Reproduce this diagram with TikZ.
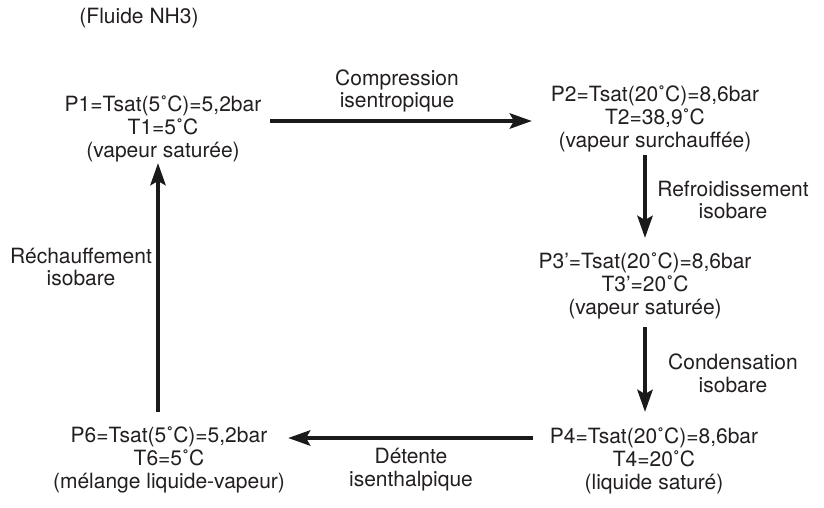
\documentclass[tikz,border=0pt]{standalone}
\usepackage{fontspec}
\setmainfont{TeX Gyre Heros}
\usetikzlibrary{arrows.meta}
\definecolor{txt}{HTML}{231F20}
\definecolor{arr}{HTML}{1A1A1A}
\tikzset{
  lbl/.style={align=center, inner sep=0pt, text=txt, font=\fontsize{21pt}{22.8pt}\selectfont},
  flow/.style={draw=arr, line width=4.5pt, -{Stealth[length=22pt,width=15pt,inset=4pt]}}
}
\newcommand{\dg}{˚}
\newcommand{\apos}{\symbol{"27}}
\begin{document}
\begin{tikzpicture}[x=1pt,y=-1pt]
\useasboundingbox[fill=white] (0,0) rectangle (824,507);
\node[lbl] (fl) at (139,18) {(Fluide NH3)};
\node[lbl] (n1) at (163,129) {P1=Tsat(5\dg C)=5,2bar\\T1=5\dg C\\(vapeur saturée)};
\node[lbl] (n2) at (655,119) {P2=Tsat(20\dg C)=8,6bar\\T2=38,9\dg C\\(vapeur surchauffée)};
\node[lbl] (n3) at (645,286) {P3\apos=Tsat(20\dg C)=8,6bar\\T3\apos=20\dg C\\(vapeur saturée)};
\node[lbl] (n4) at (654,461) {P4=Tsat(20\dg C)=8,6bar\\T4=20\dg C\\(liquide saturé)};
\node[lbl] (n6) at (169,460) {P6=Tsat(5\dg C)=5,2bar\\T6=5\dg C\\(mélange liquide-vapeur)};
\node[lbl] (l12) at (397,91) {Compression\\isentropique};
\node[lbl] (l23) at (733,200) {Refroidissement\\isobare};
\node[lbl] (l34) at (733,373) {Condensation\\isobare};
\node[lbl] (l46) at (411,470) {Détente\\isenthalpique};
\node[lbl] (l61) at (81,267) {Réchauffement\\isobare};
\coordinate (a1s) at (270,121); \coordinate (a1e) at (532,121);
\coordinate (a2s) at (645,155); \coordinate (a2e) at (645,238);
\coordinate (a3s) at (645,327); \coordinate (a3e) at (645,412);
\coordinate (a4s) at (533,438); \coordinate (a4e) at (288,438);
\coordinate (a5s) at (158,412); \coordinate (a5e) at (158,163);
\draw[flow] (a1s) -- (a1e);
\draw[flow] (a2s) -- (a2e);
\draw[flow] (a3s) -- (a3e);
\draw[flow] (a4s) -- (a4e);
\draw[flow] (a5s) -- (a5e);
\end{tikzpicture}
\end{document}
